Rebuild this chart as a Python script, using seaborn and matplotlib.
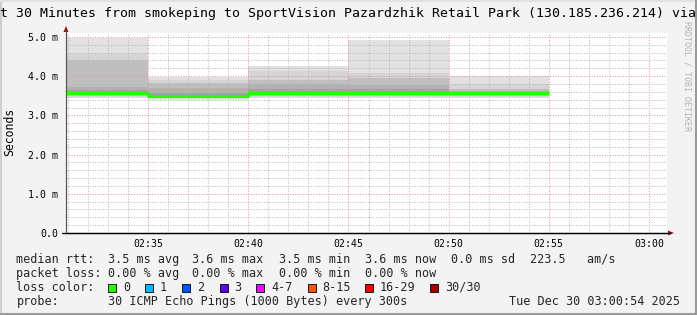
import matplotlib
matplotlib.use("Agg")
import matplotlib.pyplot as plt
import numpy as np
import pandas as pd
import seaborn as sns
from matplotlib.patches import Rectangle, Polygon
from matplotlib.lines import Line2D

# ---------------- data ----------------
seg_start = ["02:30:00", "02:35:00", "02:40:00", "02:45:00", "02:50:00"]
seg_end = "02:55:00"
view_start = "02:30:54"
view_end = "03:00:54"

median_ms = [3.58, 3.49, 3.56, 3.56, 3.57]

# smoke bands, outermost first (ms)
band_high = [
    [4.96, 3.97, 4.26, 4.92, 4.00],
    [4.60, 3.90, 4.14, 4.07, 3.80],
    [4.41, 3.82, 3.90, 3.95, 3.66],
    [3.73, 3.69, 3.80, 3.78, 3.62],
    [3.64, 3.58, 3.66, 3.66, 3.60],
]
band_low = [
    [3.44, 3.40, 3.43, 3.45, 3.43],
    [3.48, 3.43, 3.47, 3.48, 3.46],
    [3.50, 3.45, 3.50, 3.50, 3.49],
    [3.52, 3.46, 3.52, 3.52, 3.51],
    [3.54, 3.47, 3.53, 3.53, 3.53],
]
smoke_colors = ["#e1e1e1", "#d5d5d5", "#bfbfbf", "#b1b1b1", "#a3a3a3"]

xtick_labels = ["02:35", "02:40", "02:45", "02:50", "02:55", "03:00"]
ytick_values = [0, 1, 2, 3, 4, 5]
ytick_labels = ["0.0", "1.0 m", "2.0 m", "3.0 m", "4.0 m", "5.0 m"]

title_text = "t 30 Minutes from smokeping to SportVision Pazardzhik Retail Park (130.185.236.214) via"

stats_row = [("median rtt:", 16.4), ("3.5 ms avg", 107.6), ("3.6 ms max", 192.4),
             ("3.5 ms min", 279), ("3.6 ms now", 365), ("0.0 ms sd", 451),
             ("223.5   am/s", 530)]
loss_row = [("packet loss:", 16.4), ("0.00 % avg", 107.6), ("0.00 % max", 192.4),
            ("0.00 % min", 279), ("0.00 % now", 365)]
loss_labels = ["0", "1", "2", "3", "4-7", "8-15", "16-29", "30/30"]
loss_colors = ["#26ff00", "#00b8ff", "#0059ff", "#5e00ff", "#ff00ff",
               "#ff5500", "#ff0000", "#a10000"]
loss_box_x = [108, 145, 182, 219.5, 256, 307.5, 365, 430]
probe_text = "30 ICMP Echo Pings (1000 Bytes) every 300s"
stamp_text = "Tue Dec 30 03:00:54 2025"


def to_min(s):
    h, m, sec = (int(v) for v in s.split(":"))
    return (h - 2) * 60 + m + sec / 60.0


# ---------------- figure ----------------
W, H = 697, 315
sns.set_style("white")
plt.rcParams["font.family"] = ["DejaVu Sans Mono"]
fig = plt.figure(figsize=(W / 100, H / 100), dpi=100)
fig.patch.set_facecolor("#f3f3f3")


def fx(px):
    return px / W


def fy(py):
    return 1 - py / H


ax = fig.add_axes([fx(66), fy(233), (667 - 66) / W, (233 - 33) / H])
ax.set_facecolor("white")

xs = [to_min(s) for s in seg_start] + [to_min(seg_end)]

for hi, lo, col in zip(band_high, band_low, smoke_colors):
    ax.fill_between(xs, lo + [lo[-1]], hi + [hi[-1]], step="post",
                    color=col, lw=0, zorder=1)

df = pd.DataFrame({"t": xs, "median": median_ms + [median_ms[-1]]})
sns.lineplot(data=df, x="t", y="median", drawstyle="steps-post",
             color=loss_colors[0], lw=2.2, estimator=None, ax=ax, zorder=3)
for ln in ax.lines:
    ln.set_solid_capstyle("butt")

ax.set_xlim(to_min(view_start), to_min(view_end))
ax.set_ylim(0, 5.10)

major_x = [to_min(l + ":00") for l in xtick_labels]
ax.set_xticks(major_x)
ax.set_xticklabels(xtick_labels)
ax.set_xticks(np.arange(31, 61, 1.0), minor=True)
ax.set_yticks(ytick_values)
ax.set_yticklabels(ytick_labels)
ax.set_yticks(np.arange(0, 5.1, 0.2), minor=True)
ax.set_xlabel("")
ax.set_ylabel("")

ax.set_axisbelow(False)
ax.grid(which="major", color="#e39494", ls=(0, (1, 1.6)), lw=0.72)
ax.grid(which="minor", color="#b9b9b9", ls=(0, (1, 1.6)), lw=0.72)

for s in ["top", "right"]:
    ax.spines[s].set_visible(False)
ax.spines["bottom"].set_color("black")
ax.spines["bottom"].set_linewidth(0.9)
ax.spines["left"].set_color("#555555")
ax.spines["left"].set_linewidth(0.8)

ax.tick_params(axis="both", which="both", direction="out", colors="#555555",
               labelcolor="black", labelsize=7.1, width=0.7)
ax.tick_params(axis="y", which="major", length=3, pad=2.5)
ax.tick_params(axis="y", which="minor", length=2)
ax.tick_params(axis="x", which="major", length=2, pad=2.5)
ax.tick_params(axis="x", which="minor", length=1.5)

# axis arrows
fig.add_artist(Line2D([fx(66), fx(66)], [fy(233), fy(30)], color="#555555", lw=0.8))
fig.add_artist(Line2D([fx(62), fx(670)], [fy(233), fy(233)], color="black", lw=0.9))
fig.add_artist(Polygon([[fx(63.5), fy(32)], [fx(68.5), fy(32)], [fx(66), fy(26)]],
                       closed=True, color="#8b1010", lw=0))
fig.add_artist(Polygon([[fx(668), fy(230.5)], [fx(668), fy(235.5)], [fx(674), fy(233)]],
                       closed=True, color="#8b1010", lw=0))

# title and labels
fig.text(fx(0), fy(13), title_text, ha="left", va="center", fontsize=9.5, color="black")
fig.text(fx(10), fy(132), "Seconds", rotation=90, ha="center", va="center",
         fontsize=8.3, color="black")
fig.text(fx(687), fy(21), "RRDTOOL / TOBI OETIKER", rotation=270, ha="center",
         va="top", fontsize=6.0, color="#b4b4b4")

# legend rows
LFS = 8.5
for txt, x in stats_row:
    fig.text(fx(x), fy(259.5), txt, ha="left", va="center", fontsize=LFS)
for txt, x in loss_row:
    fig.text(fx(x), fy(273.5), txt, ha="left", va="center", fontsize=LFS)
fig.text(fx(16.4), fy(287.5), "loss color:", ha="left", va="center", fontsize=LFS)
for lab, col, bx in zip(loss_labels, loss_colors, loss_box_x):
    fig.add_artist(Rectangle((fx(bx), fy(291.5)), 8 / W, 8 / H, transform=fig.transFigure,
                             facecolor=col, edgecolor="black", lw=0.6))
    fig.text(fx(bx + 15), fy(287.5), lab, ha="left", va="center", fontsize=LFS)
fig.text(fx(16.4), fy(301.5), "probe:", ha="left", va="center", fontsize=LFS)
fig.text(fx(107.6), fy(301.5), probe_text, ha="left", va="center", fontsize=LFS)
fig.text(fx(680), fy(301.5), stamp_text, ha="right", va="center", fontsize=LFS)

# 3D frame
fig.add_artist(Line2D([fx(0.8), fx(0.8)], [0, 1], color="#cfcfcf", lw=1.5))
fig.add_artist(Line2D([0, 1], [fy(0.8), fy(0.8)], color="#e2e2e2", lw=1.5))
fig.add_artist(Line2D([fx(695.8), fx(695.8)], [0, 1], color="#9a9a9a", lw=1.5))
fig.add_artist(Line2D([0, 1], [fy(313.8), fy(313.8)], color="#9a9a9a", lw=1.5))

fig.savefig("out.png", dpi=100, facecolor=fig.get_facecolor())
